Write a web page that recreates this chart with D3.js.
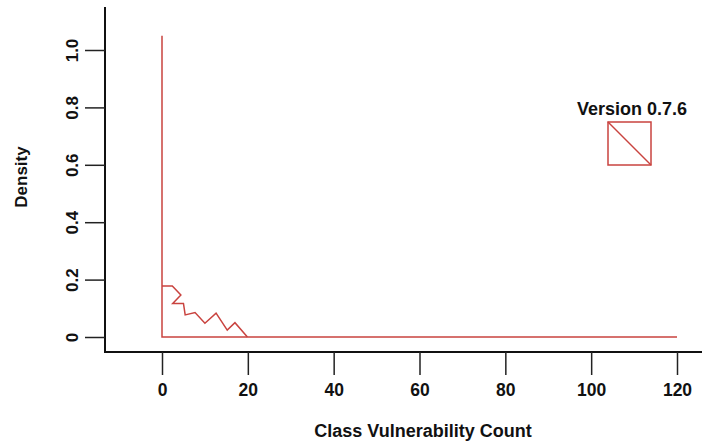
<!DOCTYPE html>
<html>
<head>
<meta charset="utf-8">
<script src="https://cdn.jsdelivr.net/npm/d3@7.9.0/dist/d3.min.js"></script>
<style>
  body { margin: 0; background: #fff; }
  svg text { font-family: "Liberation Sans", Arial, sans-serif; font-weight: bold; fill: #111; }
</style>
</head>
<body>
<svg id="chart" width="702" height="443"></svg>
<script>
// density curve for version 0.7.6
const densX = [0, 2.4, 4.4, 2.5, 5.0, 5.4, 7.7, 10.0, 12.6, 15.2, 17.0, 19.9];
const densY = [0.178, 0.178, 0.146, 0.117, 0.117, 0.077, 0.085, 0.048, 0.083, 0.024, 0.050, 0];
// spike at zero and the flat tail
const spikeX = [0, 0, 120];
const spikeY = [1.05, 0, 0];

const xTicks = [0, 20, 40, 60, 80, 100, 120];
const yTicks = [0, 0.2, 0.4, 0.6, 0.8, 1.0];
const legendLabel = 'Version 0.7.6';

const red = '#c9433f';
const svg = d3.select('#chart');

const x = d3.scaleLinear().domain([0, 120]).range([162, 677]);
const y = d3.scaleLinear().domain([0, 1]).range([337, 50]);

// L-shaped box
svg.append('path')
  .attr('d', 'M105,7 L105,352 L702,352')
  .attr('fill', 'none').attr('stroke', '#111').attr('stroke-width', 2);

// x axis
const xAxis = svg.append('g')
  .attr('transform', 'translate(0,352)')
  .call(d3.axisBottom(x).tickValues(xTicks).tickSize(23).tickPadding(7));
xAxis.select('.domain').remove();
xAxis.selectAll('line').attr('stroke', '#222').attr('stroke-width', 1.5);
xAxis.selectAll('text').attr('font-size', 17.5).attr('dy', '0.8em');

// y axis
const yAxis = svg.append('g')
  .attr('transform', 'translate(105,0)')
  .call(d3.axisLeft(y).tickValues(yTicks).tickSize(20)
    .tickFormat(d => d === 0 ? '0' : d.toFixed(1)));
yAxis.select('.domain').remove();
yAxis.selectAll('line').attr('stroke', '#222').attr('stroke-width', 1.5);
yAxis.selectAll('text')
  .attr('font-size', 17)
  .attr('text-anchor', 'middle')
  .attr('x', null)
  .attr('transform', 'translate(-32.5,0) rotate(-90)')
  .attr('dy', '0.35em');

// axis titles
svg.append('text').attr('x', 423).attr('y', 437)
  .attr('text-anchor', 'middle').attr('font-size', 18)
  .text('Class Vulnerability Count');
svg.append('text')
  .attr('transform', 'translate(21,177) rotate(-90)')
  .attr('text-anchor', 'middle').attr('dy', '0.35em').attr('font-size', 17)
  .text('Density');

// lines
const line = d3.line().x(d => x(d[0])).y(d => y(d[1]));
svg.append('path')
  .datum(d3.zip(spikeX, spikeY))
  .attr('d', line)
  .attr('fill', 'none').attr('stroke', red).attr('stroke-width', 1.5);
svg.append('path')
  .datum(d3.zip(densX, densY))
  .attr('d', line)
  .attr('fill', 'none').attr('stroke', red).attr('stroke-width', 1.5);

// legend
svg.append('text').attr('x', 632).attr('y', 115)
  .attr('text-anchor', 'middle').attr('font-size', 18)
  .text(legendLabel);
const lg = svg.append('g').attr('transform', 'translate(608,122)');
lg.append('rect').attr('width', 43).attr('height', 43)
  .attr('fill', 'none').attr('stroke', red).attr('stroke-width', 1.5);
lg.append('line').attr('x1', 0).attr('y1', 0).attr('x2', 43).attr('y2', 43)
  .attr('stroke', red).attr('stroke-width', 1.5);
</script>
</body>
</html>
